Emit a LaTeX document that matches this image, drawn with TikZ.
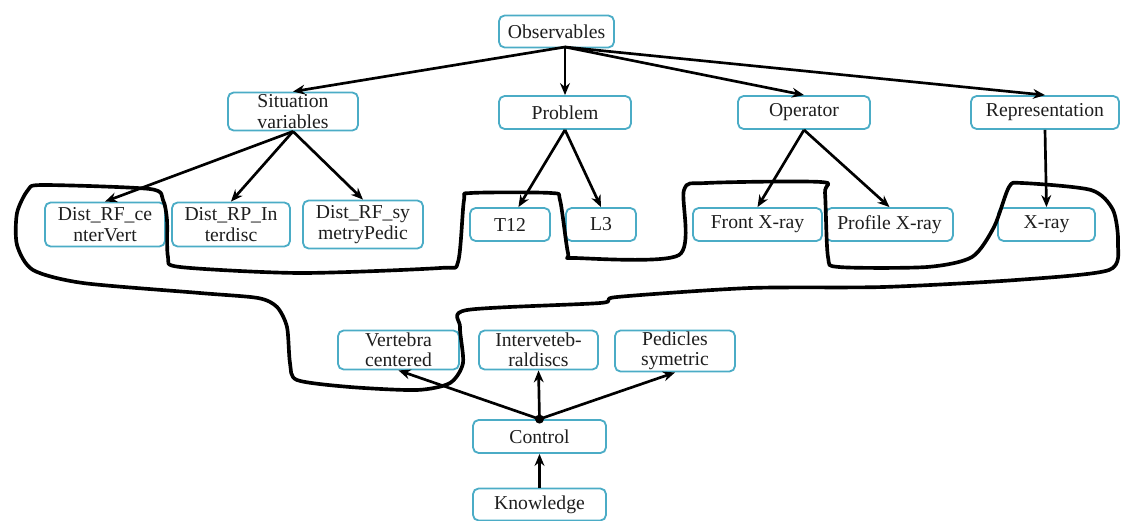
\documentclass[tikz,border=0pt]{standalone}
\usepackage{fontspec}
\setmainfont{Liberation Serif}
\newfontfamily\boxfont{Liberation Serif}
\usetikzlibrary{arrows.meta}

\begin{document}
\begin{tikzpicture}[x=0.025cm,y=-0.025cm]
    % set up palette and styles
    \definecolor{boxBlue}{RGB}{75,172,198}
    \definecolor{inkGrey}{RGB}{30,30,30}
    \tikzstyle{every node}=[font=\boxfont\fontsize{14}{14.5}\selectfont, text=inkGrey]
    \tikzstyle{box}=[draw=boxBlue, line width=1.3pt, rounded corners=4pt, align=center, inner sep=1pt, minimum height=0.825cm]
    \tikzstyle{arrow}=[-{Stealth[length=8.5pt,width=7pt]}, line width=1.9pt, black]

    \useasboundingbox (0,0) rectangle (1131,520);

    % top level
    \node[box, minimum width=2.875cm, minimum height=0.8cm] (obs) at (556.5,31.5) {Observables};
    \coordinate (obsFoot) at (565,47);

    % second level
    \node[box, minimum width=3.25cm, minimum height=0.95cm] (sitVar) at (293,111.5) {Situation\\variables};
    \node[box, minimum width=3.3cm] (prob) at (565,112.5) {Problem};
    \node[box, minimum width=3.3cm] (oper) at (804,112.5) {Operator};
    \node[box, minimum width=3.7cm] (repr) at (1045,112.5) {Representation};

    % third level
    \node[box, minimum width=3cm, minimum height=1.1cm] (distCenter) at (105,224.5) {Dist\_RF\_ce\\nterVert};
    \node[box, minimum width=2.95cm, minimum height=1.1cm] (distInter) at (231,224.5) {Dist\_RP\_In\\terdisc};
    \node[box, minimum width=3cm, minimum height=1.2cm] (distSym) at (363,224.5) {Dist\_RF\_sy\\metryPedic};
    \node[box, minimum width=2cm] (tTwelve) at (510,224.5) {T12};
    \node[box, minimum width=1.75cm] (lThree) at (601,224.5) {L3};
    \node[box, minimum width=3.225cm] (frontX) at (757.5,224.5) {Front X-ray};
    \node[box, minimum width=3.175cm] (profileX) at (889.5,224.5) {Profile X-ray};
    \node[box, minimum width=2.425cm] (xRay) at (1046.5,224.5) {X-ray};

    % control part
    \node[box, minimum width=3.025cm, minimum height=0.975cm] (vert) at (398.5,350) {Vertebra\\centered};
    \node[box, minimum width=2.975cm, minimum height=0.975cm] (inter) at (538.5,350) {Interveteb-\\raldiscs};
    \node[box, minimum width=3cm, minimum height=1.025cm] (ped) at (675,351) {Pedicles\\symetric};
    \node[box, minimum width=3.325cm] (control) at (539.5,436.5) {Control};
    \node[box, minimum width=3.325cm, minimum height=0.8cm] (know) at (539.5,504.5) {Knowledge};

    % draw arrows
    \foreach \dst in {sitVar,prob,oper,repr}
      \draw[arrow] (obsFoot) -- (\dst.north);
    \foreach \dst in {distCenter,distInter,distSym}
      \draw[arrow] (sitVar.south) -- (\dst.north);
    \draw[arrow] (prob.south) -- ([xshift=6pt]tTwelve.north);
    \draw[arrow] (prob.south) -- (lThree.north);
    \draw[arrow] (oper.south) -- (frontX.north);
    \draw[arrow] (oper.south) -- (profileX.north);
    \draw[arrow] (repr.south) -- (xRay.north);
    \foreach \dst in {vert,inter,ped}
      \draw[arrow] (control.north) -- (\dst.south);
    \fill (control.north) circle (4.5);
    \draw[arrow] (know.north) -- (control.south);

    % freehand loop round the chosen values
    \draw[line width=2.6pt, line join=round] plot[smooth cycle, tension=0.45] coordinates {
      (43,185) (150,189) (163,200) (167,220) (168,257) (180,267) (300,273)
      (440,268) (458,262) (464,200) (471,193) (551,193) (560,200) (568,253)
      (575,258) (679,255) (684,190) (706,183) (821,182) (825,193) (828,257)
      (839,267) (927,267) (972,257) (994,227) (1009,187) (1022,183) (1091,190)
      (1113,210) (1118,243) (1109,270) (1016,280) (883,287) (750,288) (617,297)
      (600,303) (467,310) (460,327) (463,363) (450,383) (417,390) (350,387)
      (297,380) (290,363) (287,327) (277,307) (258,298) (200,293) (83,283)
      (33,270) (17,245) (17,213) (28,190)};

  \end{tikzpicture}
\end{document}
